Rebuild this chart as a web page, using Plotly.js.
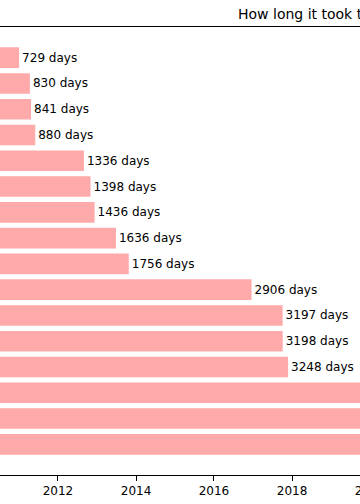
<!DOCTYPE html>
<html>
<head>
<meta charset="utf-8">
<script src="https://cdn.plot.ly/plotly-3.0.1.min.js"></script>
<style>
  html, body { margin: 0; padding: 0; background: #ffffff; overflow: hidden; width: 360px; height: 504px; }
  #chart { width: 440px; height: 504px; }
</style>
</head>
<body>
<div id="chart"></div>
<script>
// Data read from the (cropped) reference chart
const startDate = '2009-01-03';
const rowIndex = [0, 1, 2, 3, 4, 5, 6, 7, 8, 9, 10, 11, 12, 13, 14, 15];
const daysTaken = [729, 830, 841, 880, 1336, 1398, 1436, 1636, 1756, 2906, 3197, 3198, 3248, 4010, 4060, 4110];
const titleText = 'How long it took to get there';
const xRange = ['2010-07-07', '2021-10-18'];

const DAY_MS = 86400000;
const barTrace = {
  type: 'bar',
  orientation: 'h',
  y: rowIndex,
  x: daysTaken.map(d => d * DAY_MS),
  base: startDate,
  width: 0.8,
  marker: { color: '#ffaaaa', line: { width: 0 } },
  text: daysTaken.map(d => d + ' days'),
  textposition: 'outside',
  constraintext: 'none',
  cliponaxis: true,
  textfont: { family: 'DejaVu Sans', size: 12, color: '#000000' },
  hoverinfo: 'skip'
};

const layout = {
  width: 440,
  height: 504,
  margin: { l: 0, r: 0, t: 27, b: 29, pad: 0 },
  paper_bgcolor: '#ffffff',
  plot_bgcolor: '#ffffff',
  showlegend: false,
  font: { family: 'DejaVu Sans', size: 12, color: '#000000' },
  title: {
    text: titleText,
    font: { family: 'DejaVu Sans', size: 14, color: '#000000' },
    xref: 'container', x: 238 / 440, xanchor: 'left',
    yref: 'container', y: 1 - 14 / 504, yanchor: 'middle'
  },
  xaxis: {
    type: 'date',
    range: xRange,
    tick0: '2012-01-01',
    dtick: 'M24',
    tickformat: '%Y',
    ticks: 'outside',
    ticklen: 5,
    tickwidth: 1,
    tickcolor: '#000000',
    showline: true,
    mirror: true,
    linecolor: '#000000',
    linewidth: 1,
    showgrid: false,
    zeroline: false,
    tickfont: { family: 'DejaVu Sans', size: 12, color: '#000000' }
  },
  yaxis: {
    range: [16.19, -1.19],
    showticklabels: false,
    ticks: '',
    showline: false,
    showgrid: false,
    zeroline: false
  }
};

Plotly.newPlot('chart', [barTrace], layout, { staticPlot: true, displayModeBar: false });
</script>
</body>
</html>
